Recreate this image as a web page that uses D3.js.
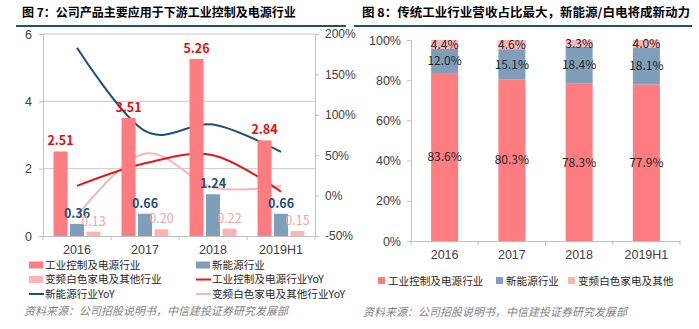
<!DOCTYPE html>
<html lang="zh">
<head>
<meta charset="UTF-8">
<title>图7 / 图8</title>
<style>
  body { margin: 0; padding: 0; background: #fff; }
  svg { display: block; font-family: "Noto Sans CJK SC", "Noto Sans", sans-serif; }
  .title { font-size: 12px; font-weight: bold; fill: #000; }
  .tick text { font-size: 12px; fill: #404040; }
  .source { font-size: 11px; font-style: italic; fill: #7f7f7f; }
  .legend text { font-size: 10.6px; fill: #262626; }
</style>
<script src="https://cdn.jsdelivr.net/npm/d3@7"></script>
</head>
<body>
<svg id="chart" width="699" height="329"></svg>
<script>
// categories
const years = ["2016", "2017", "2018", "2019H1"];

// fig 7: revenue (亿元) by segment
const industrial = [2.51, 3.51, 5.26, 2.84];
const newEnergy = [0.36, 0.66, 1.24, 0.66];
const appliance = [0.13, 0.20, 0.22, 0.15];

// fig 7: YoY growth (%)
const industrialYoY = [12, 40, 50, 5];
const newEnergyYoY = [183, 80, 88, 54];
const applianceYoY = [-25, 52, 10, 12];

// fig 8: revenue share (%)
const industrialShare = [83.6, 80.3, 78.3, 77.9];
const newEnergyShare = [12.0, 15.1, 18.4, 18.1];
const applianceShare = [4.4, 4.6, 3.3, 4.0];

const leftTicks = [0, 2, 4, 6];
const rightTicks = [-50, 0, 50, 100, 150, 200];
const shareTicks = [0, 20, 40, 60, 80, 100];

const C = {
  ind: "#FF7C80", ne: "#7F9EBA", app: "#FFB3B3",
  indLine: "#E8161B", neLine: "#1F4E79", appLine: "#F7B7B7",
  indLab: "#E01010", neLab: "#1F4E79", appLab: "#F4A3A3",
  axis: "#BFBFBF", grid: "#C8C8C8"
};

const svg = d3.select("#chart");

// ---------- titles ----------
svg.append("text").attr("class", "title").attr("x", 22).attr("y", 17)
  .text("图 7：公司产品主要应用于下游工业控制及电源行业");
svg.append("line").attr("x1", 16).attr("x2", 346).attr("y1", 26).attr("y2", 26)
  .attr("stroke", "#1F4E79").attr("stroke-width", 2);
svg.append("text").attr("class", "title").attr("x", 362).attr("y", 17)
  .attr("textLength", 328).attr("lengthAdjust", "spacingAndGlyphs")
  .text("图 8：传统工业行业营收占比最大，新能源/白电将成新动力");
svg.append("line").attr("x1", 354).attr("x2", 692).attr("y1", 26).attr("y2", 26)
  .attr("stroke", "#1F4E79").attr("stroke-width", 2);

// ---------- fig 7 ----------
const L = { left: 43, right: 315, top: 34, bottom: 236 };
const x = d3.scaleBand().domain(years).range([L.left, L.right]);
const y = d3.scaleLinear().domain([0, 6]).range([L.bottom, L.top]);
const y2 = d3.scaleLinear().domain([-50, 200]).range([L.bottom, L.top]);
const keys = ["ind", "ne", "app"];
const x1 = d3.scaleBand().domain(keys).range([0, x.bandwidth()])
  .paddingInner(0.15).paddingOuter(0.64);

const g7 = svg.append("g");

// gridlines
g7.append("g").selectAll("line").data(leftTicks.filter(d => d > 0)).join("line")
  .attr("x1", L.left).attr("x2", L.right)
  .attr("y1", d => y(d)).attr("y2", d => y(d))
  .attr("stroke", C.grid).attr("stroke-width", 1);

// axes
const axL = g7.append("g").attr("transform", `translate(${L.left},0)`)
  .call(d3.axisLeft(y).tickValues(leftTicks).tickSize(4).tickPadding(7).tickFormat(d => d));
const axR = g7.append("g").attr("transform", `translate(${L.right},0)`)
  .call(d3.axisRight(y2).tickValues(rightTicks).tickSize(4).tickPadding(6).tickFormat(d => d + "%"));
const axB = g7.append("g").attr("transform", `translate(0,${L.bottom})`)
  .call(d3.axisBottom(x).tickSize(0).tickPadding(9));
axB.selectAll(".tick text").style("font-size", "12.5px");
axB.append("g").selectAll("line").data(d3.range(years.length + 1)).join("line")
  .attr("x1", i => L.left + i * x.step()).attr("x2", i => L.left + i * x.step())
  .attr("y1", 0).attr("y2", 4).attr("stroke", C.axis);
[axL, axR, axB].forEach(a => {
  a.selectAll(".domain").attr("stroke", C.axis);
  a.selectAll(".tick line").attr("stroke", C.axis);
});
axL.selectAll(".tick text").style("font-size", "12.5px");

// YoY lines (drawn under the bars)
const series = [
  { vals: industrialYoY, color: C.indLine },
  { vals: newEnergyYoY, color: C.neLine },
  { vals: applianceYoY, color: C.appLine }
];
const line = d3.line()
  .x((d, i) => x(years[i]) + x.bandwidth() / 2)
  .y(d => y2(d))
  .curve(d3.curveCardinal.tension(0));
g7.append("g").selectAll("path").data([series[2], series[0], series[1]]).join("path")
  .attr("d", d => line(d.vals))
  .attr("fill", "none").attr("stroke", d => d.color).attr("stroke-width", 2);

// bars
const barSets = [
  { key: "ind", vals: industrial, color: C.ind, lab: C.indLab, bold: true },
  { key: "ne", vals: newEnergy, color: C.ne, lab: C.neLab, bold: true },
  { key: "app", vals: appliance, color: C.app, lab: C.appLab, bold: false }
];
barSets.forEach(s => {
  const gb = g7.append("g");
  gb.selectAll("rect").data(s.vals).join("rect")
    .attr("x", (d, i) => x(years[i]) + x1(s.key))
    .attr("width", x1.bandwidth())
    .attr("y", d => y(d))
    .attr("height", d => y(0) - y(d))
    .attr("fill", s.color);
});
barSets.forEach(s => {
  g7.append("g").selectAll("text").data(s.vals).join("text")
    .attr("x", (d, i) => x(years[i]) + x1(s.key) + x1.bandwidth() / 2)
    .attr("y", d => y(d) - 6)
    .attr("text-anchor", "middle")
    .attr("fill", s.lab)
    .style("font-size", "12.5px")
    .style("font-weight", s.bold ? "bold" : "normal")
    .text(d => d.toFixed(2));
});

// legend fig 7
const leg7 = svg.append("g").attr("class", "legend");
const leg7Items = [
  { t: "工业控制及电源行业", type: "rect", c: C.ind, x: 29, y: 265 },
  { t: "新能源行业", type: "rect", c: C.ne, x: 196, y: 265 },
  { t: "变频白色家电及其他行业", type: "rect", c: C.app, x: 29, y: 279.5 },
  { t: "工业控制及电源行业YoY", type: "line", c: C.indLine, x: 196, y: 279.5 },
  { t: "新能源行业YoY", type: "line", c: C.neLine, x: 29, y: 294 },
  { t: "变频白色家电及其他行业YoY", type: "line", c: C.appLine, x: 196, y: 294 }
];
leg7Items.forEach(d => {
  if (d.type === "rect") {
    leg7.append("rect").attr("x", d.x).attr("y", d.y - 3.5).attr("width", 14).attr("height", 7).attr("fill", d.c);
  } else {
    leg7.append("line").attr("x1", d.x).attr("x2", d.x + 15).attr("y1", d.y).attr("y2", d.y)
      .attr("stroke", d.c).attr("stroke-width", 2);
  }
  leg7.append("text").attr("x", d.x + 16).attr("y", d.y).attr("dy", "0.35em").text(d.t);
});

svg.append("text").attr("class", "source").attr("x", 24).attr("y", 315)
  .text("资料来源：公司招股说明书，中信建投证券研究发展部");

// ---------- fig 8 ----------
const R = { left: 411, right: 680, top: 40, bottom: 241 };
const xsFull = d3.scaleBand().domain(years).range([R.left, R.right]);
const ys = d3.scaleLinear().domain([0, 100]).range([R.bottom, R.top]);
const g8 = svg.append("g");

const axL8 = g8.append("g").attr("transform", `translate(${R.left},0)`)
  .call(d3.axisLeft(ys).tickValues(shareTicks).tickSize(4).tickPadding(6).tickFormat(d => d + "%"));
const axB8 = g8.append("g").attr("transform", `translate(0,${R.bottom})`)
  .call(d3.axisBottom(xsFull).tickSize(0).tickPadding(9));
axB8.append("g").selectAll("line").data(d3.range(years.length + 1)).join("line")
  .attr("x1", i => R.left + i * xsFull.step()).attr("x2", i => R.left + i * xsFull.step())
  .attr("y1", 0).attr("y2", 4).attr("stroke", C.axis);
[axL8, axB8].forEach(a => {
  a.selectAll(".domain").attr("stroke", C.axis);
  a.selectAll(".tick line").attr("stroke", C.axis);
  a.selectAll(".tick text").style("font-size", "12.5px");
});

const stackData = years.map((yr, i) => ({
  year: yr, ind: industrialShare[i], ne: newEnergyShare[i], app: applianceShare[i]
}));
const stacked = d3.stack().keys(["ind", "ne", "app"])(stackData);
const stackColor = { ind: C.ind, ne: C.ne, app: C.app };
const bw = 27;
stacked.forEach(layer => {
  const gl = g8.append("g").attr("fill", stackColor[layer.key]);
  gl.selectAll("rect").data(layer).join("rect")
    .attr("x", d => xsFull(d.data.year) + xsFull.bandwidth() / 2 - bw / 2)
    .attr("width", bw)
    .attr("y", d => ys(Math.min(d[1], 100)))
    .attr("height", d => ys(d[0]) - ys(Math.min(d[1], 100)));
});
stacked.forEach(layer => {
  g8.append("g").selectAll("text").data(layer).join("text")
    .attr("x", d => xsFull(d.data.year) + xsFull.bandwidth() / 2)
    .attr("y", d => ys((d[0] + Math.min(d[1], 100)) / 2))
    .attr("dy", "0.35em")
    .attr("text-anchor", "middle")
    .attr("fill", "#262626")
    .style("font-size", "12px")
    .text(d => d.data[layer.key].toFixed(1) + "%");
});

// legend fig 8
const leg8 = svg.append("g").attr("class", "legend");
const leg8Items = [
  { t: "工业控制及电源行业", c: C.ind, x: 378 },
  { t: "新能源行业", c: C.ne, x: 496 },
  { t: "变频白色家电及其他", c: C.app, x: 568 }
];
leg8Items.forEach(d => {
  leg8.append("rect").attr("x", d.x).attr("y", 277).attr("width", 7).attr("height", 7).attr("fill", d.c);
  leg8.append("text").attr("x", d.x + 10).attr("y", 281).attr("dy", "0.35em").text(d.t);
});

svg.append("text").attr("class", "source").attr("x", 363).attr("y", 316)
  .text("资料来源：公司招股说明书，中信建投证券研究发展部");
</script>
</body>
</html>
